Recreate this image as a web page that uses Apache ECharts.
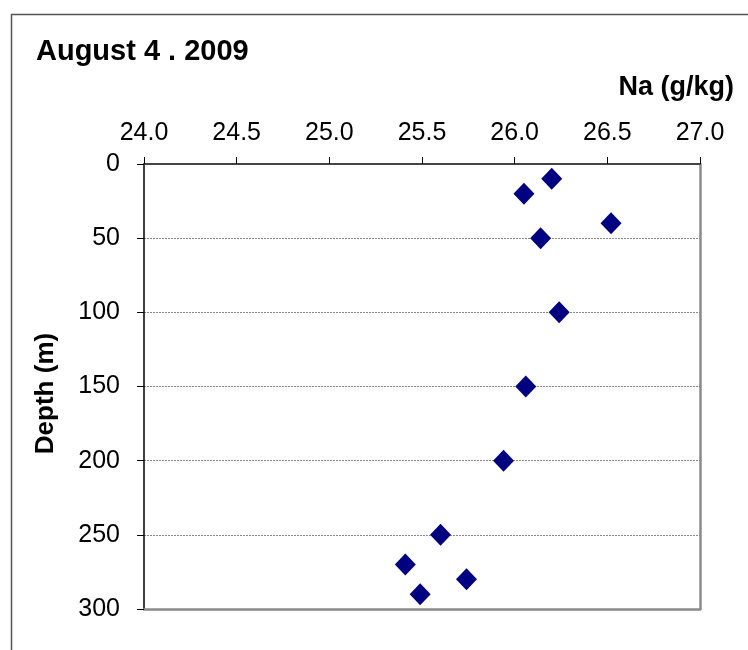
<!DOCTYPE html>
<html>
<head>
<meta charset="utf-8">
<script src="https://cdn.jsdelivr.net/npm/echarts@6/dist/echarts.min.js"></script>
<style>
html,body{margin:0;padding:0;background:#fff;}
#chart{width:748px;height:650px;}
</style>
</head>
<body>
<div id="chart"></div>
<script>
var titleText = "August 4 . 2009";
var xAxisName = "Na (g/kg)";
var yAxisName = "Depth (m)";
var naValues = [26.20, 26.05, 26.52, 26.14, 26.24, 26.06, 25.94, 25.60, 25.41, 25.74, 25.49];
var depths   = [10, 20, 40, 50, 100, 150, 200, 250, 270, 280, 290];
var xTicks = [24.0, 24.5, 25.0, 25.5, 26.0, 26.5, 27.0];
var yTicks = [0, 50, 100, 150, 200, 250, 300];

var points = naValues.map(function (v, i) { return [v, depths[i]]; });
var font = "Liberation Sans, Arial, sans-serif";

var chart = echarts.init(document.getElementById('chart'), null, {renderer: 'canvas'});
chart.setOption({
  animation: false,
  backgroundColor: '#fff',
  grid: {left: 144, top: 164, right: 48, bottom: 41, containLabel: false},
  title: [{
    text: titleText, left: 31, top: 32,
    textStyle: {fontFamily: font, fontSize: 29, fontWeight: 'bold', color: '#000'}
  }, {
    text: xAxisName, right: 9, top: 69,
    textStyle: {fontFamily: font, fontSize: 27, fontWeight: 'bold', color: '#000'}
  }],
  graphic: [{
    type: 'rect', silent: true,
    shape: {x: 11.5, y: 14.5, width: 800, height: 700},
    style: {fill: 'none', stroke: '#555', lineWidth: 1.5}
  }],
  xAxis: [{
    type: 'value', position: 'top',
    min: xTicks[0], max: xTicks[xTicks.length - 1], interval: 0.5,
    axisLine: {show: true, onZero: false, lineStyle: {color: '#444', width: 2}},
    axisTick: {show: true, inside: false, length: 7, lineStyle: {color: '#000', width: 1}},
    axisLabel: {margin: 18, fontFamily: font, fontSize: 25, color: '#000',
      formatter: function (v) { return v.toFixed(1); }},
    splitLine: {show: false}
  }, {
    type: 'value', position: 'bottom',
    min: xTicks[0], max: xTicks[xTicks.length - 1],
    axisLine: {show: true, onZero: false, lineStyle: {color: '#8a8a8a', width: 2.5}},
    axisTick: {show: false}, axisLabel: {show: false}, splitLine: {show: false}
  }],
  yAxis: [{
    type: 'value', inverse: true,
    min: yTicks[0], max: yTicks[yTicks.length - 1], interval: 50,
    name: yAxisName, nameLocation: 'middle', nameRotate: 90, nameGap: 85,
    nameTextStyle: {fontFamily: font, fontSize: 26, fontWeight: 'bold', color: '#000',
      padding: [0, 14, 0, 0]},
    axisLine: {show: true, onZero: false, lineStyle: {color: '#000', width: 1.5}},
    axisTick: {show: true, inside: false, length: 7, lineStyle: {color: '#000', width: 1}},
    axisLabel: {margin: 24, fontFamily: font, fontSize: 25, color: '#000'},
    splitLine: {show: true, lineStyle: {color: '#888', type: [2, 1], width: 1}}
  }, {
    type: 'value', inverse: true, position: 'right',
    min: yTicks[0], max: yTicks[yTicks.length - 1],
    axisLine: {show: true, onZero: false, lineStyle: {color: '#8a8a8a', width: 2.5}},
    axisTick: {show: false}, axisLabel: {show: false}, splitLine: {show: false}
  }],
  series: [{
    type: 'scatter', xAxisIndex: 0, yAxisIndex: 0,
    data: points, symbol: 'diamond', symbolSize: [21, 22],
    itemStyle: {color: '#000080', opacity: 1}
  }]
});
</script>
</body>
</html>
